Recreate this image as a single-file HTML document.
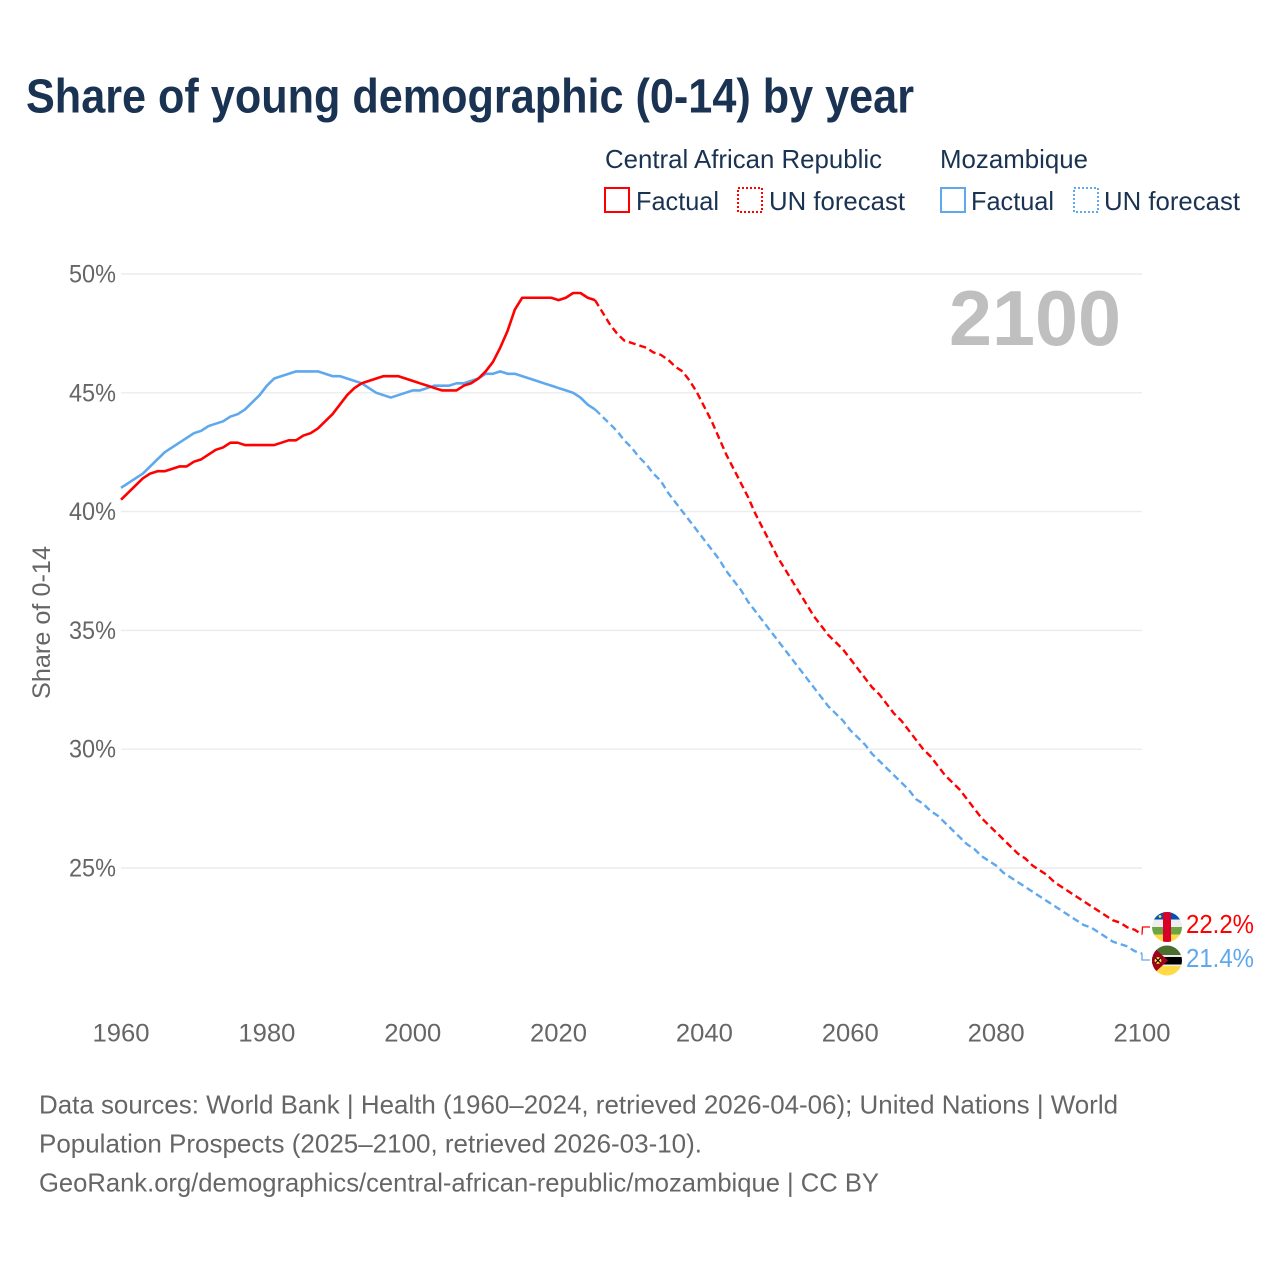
<!DOCTYPE html>
<html lang="en">
<head>
<meta charset="utf-8">
<title>Share of young demographic (0-14) by year</title>
<style>
html,body{margin:0;padding:0;background:#fff;}
svg{display:block;font-family:"Liberation Sans",sans-serif;}
</style>
</head>
<body>
<svg id="chart" xmlns="http://www.w3.org/2000/svg" width="1280" height="1280" viewBox="0 0 1280 1280">
  <rect x="0" y="0" width="1280" height="1280" fill="#ffffff"/>
  <text x="26" y="112.5" font-size="48" font-weight="700" fill="#1a3353" textLength="888" lengthAdjust="spacingAndGlyphs">Share of young demographic (0-14) by year</text>

  <g font-size="26" fill="#1a3353">
    <text x="605" y="168" textLength="277" lengthAdjust="spacingAndGlyphs">Central African Republic</text>
    <text x="940" y="168" textLength="148" lengthAdjust="spacingAndGlyphs">Mozambique</text>
    <g>
      <rect x="605" y="188" width="24" height="24" fill="none" stroke="#ff0000" stroke-width="2"/>
      <text x="636" y="210" textLength="83" lengthAdjust="spacingAndGlyphs">Factual</text>
    </g>
    <g>
      <rect x="738" y="188" width="24" height="24" fill="none" stroke="#ff0000" stroke-width="2" stroke-dasharray="2,2"/>
      <text x="769" y="210" textLength="136" lengthAdjust="spacingAndGlyphs">UN forecast</text>
    </g>
    <g>
      <rect x="941" y="188" width="24" height="24" fill="none" stroke="#60a8ee" stroke-width="2"/>
      <text x="971" y="210" textLength="83" lengthAdjust="spacingAndGlyphs">Factual</text>
    </g>
    <g>
      <rect x="1074" y="188" width="24" height="24" fill="none" stroke="#60a8ee" stroke-width="2" stroke-dasharray="2,2"/>
      <text x="1104" y="210" textLength="136" lengthAdjust="spacingAndGlyphs">UN forecast</text>
    </g>
  </g>

  <g id="grid"></g>
  <g id="y-axis"></g>
  <g id="x-axis"></g>

  <text transform="translate(50,622.5) rotate(-90)" text-anchor="middle" font-size="25" fill="#666666" textLength="153" lengthAdjust="spacingAndGlyphs">Share of 0-14</text>
  <text x="949" y="345" font-size="78" font-weight="700" fill="#bfbfbf" textLength="172" lengthAdjust="spacingAndGlyphs">2100</text>

  <g id="series"></g>
  <g id="end-labels"></g>

  <defs>
    <clipPath id="flag-clip-top"><circle cx="1167" cy="927" r="15"/></clipPath>
    <clipPath id="flag-clip-bottom"><circle cx="1167" cy="960.5" r="15"/></clipPath>
  </defs>
  <g clip-path="url(#flag-clip-top)">
    <rect x="1150" y="910" width="34" height="10" fill="#0052b4"/>
    <rect x="1150" y="919.5" width="34" height="7.5" fill="#eeeeee"/>
    <rect x="1150" y="927" width="34" height="7.5" fill="#6da544"/>
    <rect x="1150" y="934.5" width="34" height="9" fill="#ffda44"/>
    <rect x="1163" y="910" width="8" height="34" fill="#d80027"/>
    <circle cx="1160" cy="916.5" r="1.4" fill="#ffda44"/>
  </g>
  <g clip-path="url(#flag-clip-bottom)">
    <rect x="1150" y="944" width="34" height="12" fill="#496e2d"/>
    <rect x="1150" y="955" width="34" height="2" fill="#eeeeee"/>
    <rect x="1150" y="957" width="34" height="7.5" fill="#000000"/>
    <rect x="1150" y="964.5" width="34" height="2" fill="#eeeeee"/>
    <rect x="1150" y="966" width="34" height="11" fill="#ffda44"/>
    <polygon points="1150,944 1168,960.5 1150,977" fill="#a2001d"/>
    <circle cx="1158" cy="960.5" r="3.4" fill="#ffda44"/>
    <path d="M1155.5 958l5 5M1160.5 958l-5 5" stroke="#000" stroke-width="1.2"/>
  </g>

  <g font-size="26" fill="#666666">
    <text x="39" y="1113.5" textLength="1079" lengthAdjust="spacingAndGlyphs">Data sources: World Bank | Health (1960–2024, retrieved 2026-04-06); United Nations | World</text>
    <text x="39" y="1152.5" textLength="663" lengthAdjust="spacingAndGlyphs">Population Prospects (2025–2100, retrieved 2026-03-10).</text>
    <text x="39" y="1191.5" textLength="840" lengthAdjust="spacingAndGlyphs">GeoRank.org/demographics/central-african-republic/mozambique | CC BY</text>
  </g>
</svg>

<script>
const xTickYears = [1960, 1980, 2000, 2020, 2040, 2060, 2080, 2100];
const yTickValues = [50, 45, 40, 35, 30, 25];
const factualStartYear = 1960;
const forecastStartYear = 2025;

const carFactual = [40.5,40.8,41.1,41.4,41.6,41.7,41.7,41.8,41.9,41.9,42.1,42.2,42.4,42.6,42.7,42.9,42.9,42.8,42.8,42.8,42.8,42.8,42.9,43.0,43.0,43.2,43.3,43.5,43.8,44.1,44.5,44.9,45.2,45.4,45.5,45.6,45.7,45.7,45.7,45.6,45.5,45.4,45.3,45.2,45.1,45.1,45.1,45.3,45.4,45.6,45.9,46.3,46.9,47.6,48.5,49.0,49.0,49.0,49.0,49.0,48.9,49.0,49.2,49.2,49.0,48.9];
const mozambiqueFactual = [41.0,41.2,41.4,41.6,41.9,42.2,42.5,42.7,42.9,43.1,43.3,43.4,43.6,43.7,43.8,44.0,44.1,44.3,44.6,44.9,45.3,45.6,45.7,45.8,45.9,45.9,45.9,45.9,45.8,45.7,45.7,45.6,45.5,45.4,45.2,45.0,44.9,44.8,44.9,45.0,45.1,45.1,45.2,45.3,45.3,45.3,45.4,45.4,45.5,45.6,45.8,45.8,45.9,45.8,45.8,45.7,45.6,45.5,45.4,45.3,45.2,45.1,45.0,44.8,44.5,44.3];
const carForecast = [48.9,48.4,47.9,47.5,47.2,47.1,47.0,46.9,46.7,46.6,46.4,46.1,45.9,45.5,45.0,44.4,43.8,43.1,42.4,41.8,41.2,40.6,39.9,39.3,38.7,38.1,37.6,37.1,36.6,36.1,35.6,35.2,34.8,34.5,34.2,33.8,33.4,33.0,32.6,32.3,31.9,31.5,31.2,30.8,30.4,30.0,29.7,29.3,28.9,28.6,28.3,27.9,27.5,27.1,26.8,26.5,26.2,25.9,25.6,25.4,25.1,24.9,24.7,24.4,24.2,24.0,23.8,23.6,23.4,23.2,23.0,22.8,22.7,22.5,22.4,22.2];
const mozambiqueForecast = [44.3,44.0,43.7,43.4,43.0,42.7,42.3,42.0,41.6,41.3,40.8,40.4,40.0,39.6,39.2,38.8,38.4,38.0,37.5,37.1,36.7,36.2,35.8,35.4,35.0,34.6,34.2,33.8,33.4,33.0,32.6,32.2,31.8,31.5,31.2,30.8,30.5,30.2,29.8,29.5,29.2,28.9,28.6,28.3,27.9,27.7,27.4,27.2,26.9,26.6,26.3,26.0,25.8,25.5,25.3,25.1,24.8,24.6,24.4,24.2,24.0,23.8,23.6,23.4,23.2,23.0,22.8,22.6,22.5,22.3,22.1,21.9,21.8,21.7,21.5,21.4];

const SVG_NS = 'http://www.w3.org/2000/svg';
const RED = '#ff0000';
const BLUE = '#60a8ee';

function xScale(year) { return 121 + (year - 1960) * (1142 - 121) / 140; }
function yScale(value) { return 274 + (50 - value) * (868 - 274) / 25; }

function make(tag, attrs, parent, content) {
  const el = document.createElementNS(SVG_NS, tag);
  Object.keys(attrs).forEach(function (k) { el.setAttribute(k, attrs[k]); });
  if (content !== undefined) el.textContent = content;
  parent.appendChild(el);
  return el;
}

function linePath(values, startYear) {
  return values.map(function (v, i) {
    return (i ? 'L' : 'M') + xScale(startYear + i).toFixed(2) + ' ' + yScale(v).toFixed(2);
  }).join('');
}

const gridGroup = document.getElementById('grid');
const yAxisGroup = document.getElementById('y-axis');
const xAxisGroup = document.getElementById('x-axis');
const seriesGroup = document.getElementById('series');
const endGroup = document.getElementById('end-labels');

yTickValues.forEach(function (v) {
  const line = make('line', {x1: xScale(1960), x2: xScale(2100), y1: yScale(v), y2: yScale(v), stroke: '#ececec', 'stroke-width': 1.4}, gridGroup);
  
  
  const label = make('text', {x: 69, y: yScale(v) + 8.5, 'font-size': 25, fill: '#666666', textLength: 47, lengthAdjust: 'spacingAndGlyphs'}, yAxisGroup, v + '%');
  
  
});

xTickYears.forEach(function (year) {
  const label = make('text', {x: xScale(year), y: 1041.5, 'font-size': 25, fill: '#666666', 'text-anchor': 'middle', textLength: 57, lengthAdjust: 'spacingAndGlyphs'}, xAxisGroup, String(year));
  
  
});

const blueFactualLine = make('path', {d: linePath(mozambiqueFactual, factualStartYear), fill: 'none', stroke: BLUE, 'stroke-width': 2.6, 'stroke-linejoin': 'round'}, seriesGroup);



const blueForecastLine = make('path', {d: linePath(mozambiqueForecast, forecastStartYear), fill: 'none', stroke: BLUE, 'stroke-width': 2.4, 'stroke-dasharray': '7,4'}, seriesGroup);



const redFactualLine = make('path', {d: linePath(carFactual, factualStartYear), fill: 'none', stroke: RED, 'stroke-width': 2.6, 'stroke-linejoin': 'round'}, seriesGroup);



const redForecastLine = make('path', {d: linePath(carForecast, forecastStartYear), fill: 'none', stroke: RED, 'stroke-width': 2.4, 'stroke-dasharray': '7,4'}, seriesGroup);



const carLast = carForecast[carForecast.length - 1];
const mozLast = mozambiqueForecast[mozambiqueForecast.length - 1];
const endX = xScale(2100);

const redConnector = make('path', {d: 'M' + endX + ' ' + yScale(carLast) + 'L' + (endX + 0.5) + ' ' + (yScale(carLast) - 7.5) + 'H' + (endX + 8), fill: 'none', stroke: RED, 'stroke-width': 1.3}, endGroup);



const blueConnector = make('path', {d: 'M' + endX + ' ' + yScale(mozLast) + 'V' + (yScale(mozLast) + 6.5) + 'H' + (endX + 8), fill: 'none', stroke: BLUE, 'stroke-width': 1.3}, endGroup);



const redValue = make('text', {x: 1186, y: yScale(carLast) - 1.5, 'font-size': 26, fill: RED, textLength: 68, lengthAdjust: 'spacingAndGlyphs'}, endGroup, carLast.toFixed(1) + '%');



const blueValue = make('text', {x: 1186, y: yScale(mozLast) + 13.5, 'font-size': 26, fill: BLUE, textLength: 68, lengthAdjust: 'spacingAndGlyphs'}, endGroup, mozLast.toFixed(1) + '%');


</script>
</body>
</html>
